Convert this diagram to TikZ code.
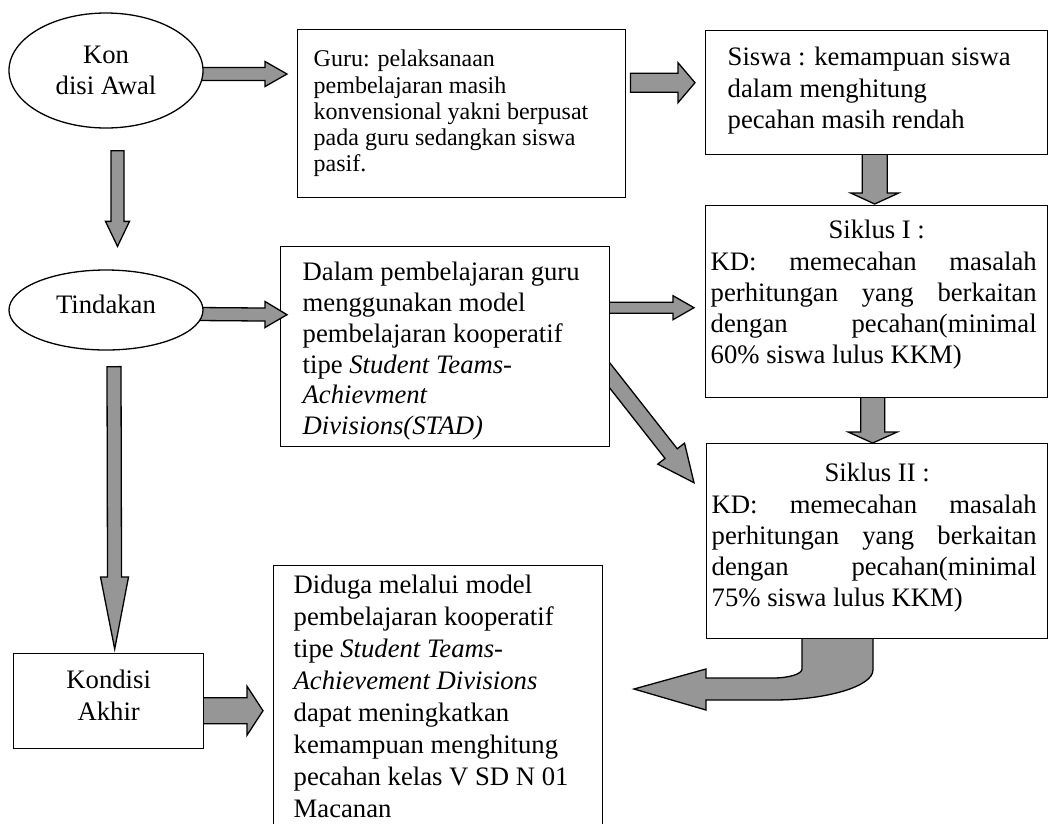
\documentclass[tikz,border=0pt]{standalone}
\usepackage{fontspec}
\setmainfont{Liberation Serif}
\usetikzlibrary{calc,shapes.geometric,backgrounds}
\definecolor{agray}{RGB}{150,150,150}
\newcommand\mfs{\fontsize{26.67pt}{31.3pt}\selectfont}
% block arrow: start, tip, shaft half-width, head half-width, head length
\newcommand\barrow[5]{%
  \coordinate (bbase) at ($(#2)!#5!(#1)$);
  \draw[blk] ($(#1)!#3!90:(#2)$) -- ($(bbase)!#3!90:(#2)$) -- ($(bbase)!#4!90:(#2)$) -- (#2)
    -- ($(bbase)!#4!-90:(#2)$) -- ($(bbase)!#3!-90:(#2)$) -- ($(#1)!#3!-90:(#2)$) -- cycle;}
\begin{document}
\begin{tikzpicture}[x=1pt,y=-1pt,
  box/.style={draw,line width=1.4pt,fill=white,inner sep=0pt,anchor=north west},
  ell/.style={draw,ellipse,line width=1.3pt,fill=white,inner sep=0pt,align=center},
  blk/.style={draw,line width=1.3pt,fill=agray,line join=miter}]
\useasboundingbox (0,0) rectangle (1049,823);
\clip (0,0) rectangle (1049,823);

\node[ell,minimum width=194pt,minimum height=115pt,font=\fontsize{26.67pt}{30.5pt}\selectfont] (kon) at (106,70.5) {Kon\\disi Awal};

\node[box] (guru) at (297,29) {\parbox[c][168pt][t]{328pt}{\fontsize{24pt}{26.3pt}\selectfont\raggedright\leftskip=16pt\vspace*{18.6pt}\strut Guru: pelaksanaan\\pembelajaran masih\\konvensional yakni berpusat\\pada guru sedangkan siswa\\pasif.}};

\node[box] (siswa) at (705,30) {\parbox[c][124pt][t]{342pt}{\mfs\raggedright\leftskip=22pt\vspace*{13.1pt}\strut Siswa : kemampuan siswa\\dalam menghitung\\pecahan masih rendah}};

\node[box] (s1) at (705,205) {\parbox[c][192pt][t]{342pt}{\mfs\vspace*{11.1pt}{\centering\strut Siklus I :\par}\leftskip=5pt\rightskip=11pt KD: memecahan masalah\linebreak perhitungan yang berkaitan\linebreak dengan pecahan(minimal\linebreak 60\% siswa lulus KKM)}};

\node[box] (s2) at (706,443) {\parbox[c][195pt][t]{341pt}{\mfs\vspace*{16.1pt}{\centering\strut Siklus II :\par}\leftskip=5pt\rightskip=11pt KD: memecahan masalah\linebreak perhitungan yang berkaitan\linebreak dengan pecahan(minimal\linebreak 75\% siswa lulus KKM)}};

\node[box] (dalam) at (280,246) {\parbox[c][200pt][t]{329pt}{\fontsize{26.67pt}{30.8pt}\selectfont\raggedright\leftskip=22pt\vspace*{12.44pt}\strut Dalam pembelajaran guru\\menggunakan model\\pembelajaran kooperatif\\tipe \textit{Student Teams-}\\\textit{Achievment}\\\textit{Divisions(STAD)}}};

\node[box] (kond) at (13,653) {\parbox[c][95pt][t]{190pt}{\fontsize{26.67pt}{32pt}\selectfont\centering\vspace*{12.6pt}\strut Kondisi\\Akhir}};

\node[box] (diduga) at (273,565) {\parbox[c][280pt][t]{329pt}{\fontsize{26.67pt}{32pt}\selectfont\raggedright\leftskip=20pt\vspace*{5.3pt}\strut Diduga melalui model\\pembelajaran kooperatif\\tipe \textit{Student Teams-}\\\textit{Achievement Divisions}\\dapat meningkatkan\\kemampuan menghitung\\pecahan kelas V SD N 01\\Macanan}};

% arrow Tindakan -> Dalam (tip overlaps the box border)
\coordinate (a7s) at (198,314);
\coordinate (a7e) at ($(dalam.west)+(7,-32)$);
\barrow{a7s}{a7e}{6.5pt}{13pt}{22pt}

\node[ell,minimum width=194pt,minimum height=80pt,font=\mfs,text height=18pt,text depth=11.4pt] (tind) at (106,310) {Tindakan};

\begin{pgfonlayer}{background}
\coordinate (a1s) at ($(kon.east)+(-3,3.5)$);
\coordinate (a1e) at ($(guru.west|-a1s)+(-10,0)$);
\barrow{a1s}{a1e}{6.5pt}{12.5pt}{22pt}

\coordinate (a2s) at ($(guru.east)+(4,-31)$);
\coordinate (a2e) at ($(siswa.west)+(-10,-10)$);
\barrow{a2s}{a2e}{9.5pt}{20pt}{17pt}

\coordinate (a3s) at ($(siswa.south)+(-2,-2)$);
\coordinate (a3e) at ($(s1.north)+(-2,-1)$);
\barrow{a3s}{a3e}{12.5pt}{24pt}{11pt}

\coordinate (a4s) at ($(s1.south)+(-4,-2)$);
\coordinate (a4e) at ($(s2.north)+(-4.5,0)$);
\barrow{a4s}{a4e}{12pt}{24.5pt}{11pt}

\coordinate (a5s) at ($(kon.south)+(11.5,22)$);
\coordinate (a5e) at ($(tind.north)+(11.5,-23)$);
\barrow{a5s}{a5e}{6.5pt}{12pt}{25pt}

\coordinate (a6s) at ($(tind.south)+(8,16)$);
\coordinate (a6e) at ($(kond.north)+(6,-4)$);
\barrow{a6s}{a6e}{7pt}{14pt}{72pt}

\coordinate (a8s) at ($(dalam.east)+(-2,-39)$);
\coordinate (a8e) at ($(s1.west|-a8s)+(-11,0)$);
\barrow{a8s}{a8e}{5.5pt}{12pt}{21pt}

\coordinate (a9s) at (600,363);
\coordinate (a9e) at ($(s2.west)+(-12,-58.5)$);
\barrow{a9s}{a9e}{7.8pt}{17pt}{37pt}

\coordinate (a10s) at ($(kond.east)+(-2,9.5)$);
\coordinate (a10e) at ($(diduga.west|-a10s)+(-10,0)$);
\barrow{a10s}{a10e}{13pt}{24.5pt}{16pt}

% curved arrow Siklus II -> Diduga
\coordinate (c0) at (802,636);
\coordinate (ctip) at (634,689);
\draw[blk] (c0) -- (802,669) .. controls (802,674) and (789,678) .. (773,678) -- (706,678) -- (706,669) -- (ctip)
  -- (706,710) -- (706,700) -- (773,700) .. controls (828,700) and (873,686) .. (873,670) -- (873,636) -- cycle;
\end{pgfonlayer}
\end{tikzpicture}
\end{document}
